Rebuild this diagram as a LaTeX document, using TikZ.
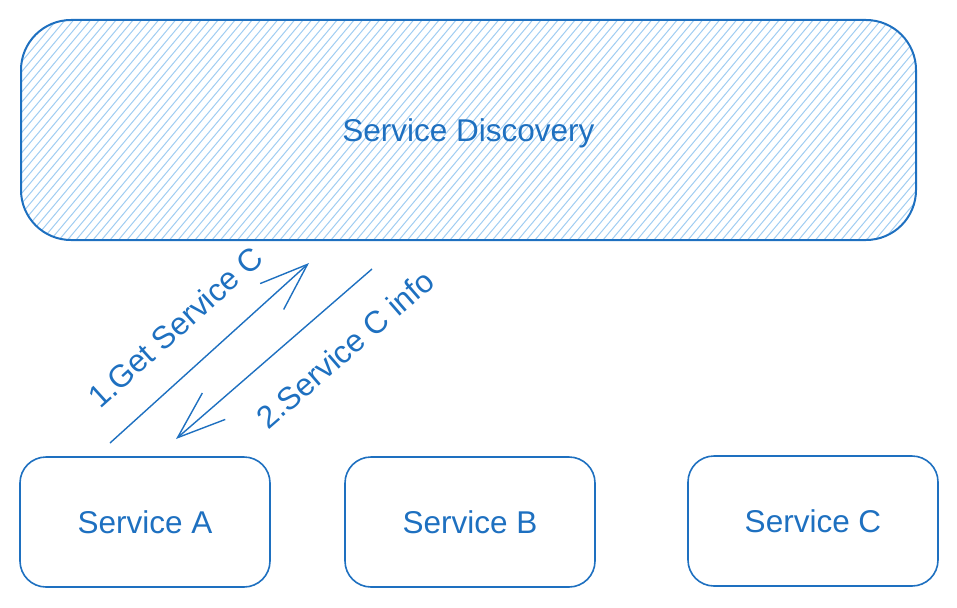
\documentclass[tikz,border=0pt]{standalone}
\usepackage{fontspec}
\setmainfont{Liberation Sans}
\usetikzlibrary{arrows.meta}
\definecolor{stroke}{RGB}{30,112,192}
\definecolor{hatchc}{RGB}{160,205,242}
\tikzset{
  txt/.style={text=stroke, font=\fontsize{31.5pt}{36pt}\selectfont},
  svc/.style={txt, draw=stroke, line width=1.6pt, rounded corners=26pt,
    minimum width=250pt, minimum height=130pt, inner sep=0pt, text depth=0pt},
  disc/.style={txt, draw=stroke, line width=2pt, rounded corners=50pt,
    minimum width=895pt, minimum height=220pt, inner sep=0pt, text depth=0pt},
  hatch/.style={draw=hatchc, line width=1pt},
  flow/.style={draw=stroke, line width=1.4pt, -{Straight Barb[length=48pt,width=35pt]}},
  lbl/.style={txt, inner sep=0pt}
}
\begin{document}
\begin{tikzpicture}[x=1pt,y=-1pt]
\useasboundingbox (0,0) rectangle (957,607);
\node[disc, path picture={
  \foreach \i in {0,8.5,...,1120}
    \draw[hatch] ([xshift={\i pt-200pt}]path picture bounding box.south west) -- ++(193pt,230pt);
}] (sd) at (468.5,130) {Service Discovery};
\node[svc] (sa) at (145,522) {Service A};
\node[svc] (sb) at (470,522) {Service B};
\node[svc] (sc) at (813,521) {Service C};
\coordinate (a1s) at (110,443);
\coordinate (a1e) at (309,263);
\coordinate (a2s) at (372,269);
\coordinate (a2e) at (176,439);
\draw[flow] (a1s) -- (a1e);
\draw[flow] (a2s) -- (a2e);
\path (a1s) -- (a1e) node[lbl, pos=0.47, sloped, above=31pt, anchor=base] (l1) {1.Get Service C};
\path (a2e) -- (a2s) node[lbl, pos=0.72, sloped, below=54pt, anchor=base] (l2) {2.Service C info};
\end{tikzpicture}
\end{document}
